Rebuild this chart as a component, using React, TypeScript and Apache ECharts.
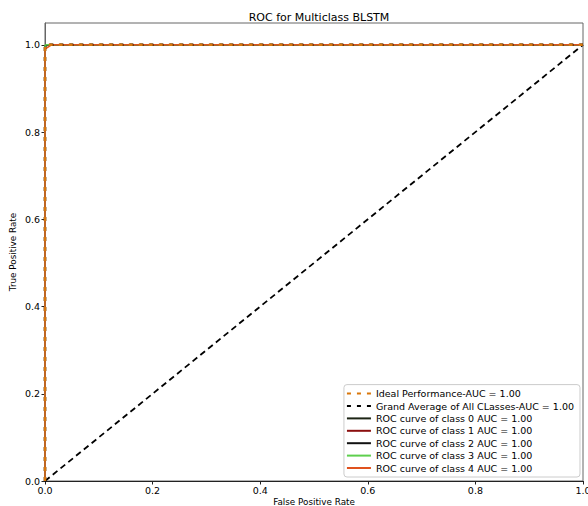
import React, { useEffect, useRef } from "react";
import * as echarts from "echarts";

const xTicks = [0, 0.2, 0.4, 0.6, 0.8, 1.0];
const diagonal: number[][] = [[0, 0], [1, 1]];
const idealCurve: number[][] = [[0, 0], [0, 1], [1, 1]];
const grandAverage: number[][] = [[0, 0], [0, 0.998], [0.002, 1], [1, 1]];
const class0: number[][] = [[0, 0], [0, 0.996], [0.006, 1], [1, 1]];
const class1: number[][] = [[0, 0], [0, 0.997], [0.005, 1], [1, 1]];
const class2: number[][] = [[0, 0], [0, 0.998], [0.004, 1], [1, 1]];
const class3: number[][] = [[0, 0], [0, 0.999], [0.003, 1], [1, 1]];
const class4: number[][] = [[0, 0], [0, 0.99], [0.012, 1], [1, 1]];

const seriesNames = [
  "Ideal Performance-AUC = 1.00",
  "Grand Average of All CLasses-AUC = 1.00",
  "ROC curve of class 0 AUC = 1.00",
  "ROC curve of class 1 AUC = 1.00",
  "ROC curve of class 2 AUC = 1.00",
  "ROC curve of class 3 AUC = 1.00",
  "ROC curve of class 4 AUC = 1.00",
];
const seriesData = [idealCurve, grandAverage, class0, class1, class2, class3, class4];
const seriesColors = ["#d9770a", "#000000", "#1c2414", "#8b0f0f", "#111111", "#5ecf4e", "#e0521e"];
const seriesDash: any[] = [[4, 6], [4, 6], "solid", "solid", "solid", "solid", "solid"];
const seriesWidth = [2.5, 2.5, 1.5, 1.5, 1.5, 1.5, 1.5];
const seriesZ = [9, 8, 3, 4, 5, 6, 7];

const FONT = "DejaVu Sans";

export default function App() {
  const ref = useRef<HTMLDivElement>(null);
  useEffect(() => {
    if (!ref.current) return;
    const chart = echarts.init(ref.current, undefined, { renderer: "svg" });
    const lineSeries: any[] = seriesNames.map((name, i) => ({
      name,
      type: "line",
      data: seriesData[i],
      showSymbol: false,
      symbol: "none",
      z: seriesZ[i],
      lineStyle: { color: seriesColors[i], width: seriesWidth[i], type: seriesDash[i] },
      itemStyle: { color: seriesColors[i] },
    }));
    lineSeries.unshift({
      name: "diagonal",
      type: "line",
      data: diagonal,
      showSymbol: false,
      symbol: "none",
      z: 2,
      lineStyle: { color: "#000", width: 1.8, type: [6, 4] },
    });
    chart.setOption({
      animation: false,
      backgroundColor: "#fff",
      textStyle: { fontFamily: FONT },
      title: {
        text: "ROC for Multiclass BLSTM",
        left: 314,
        textAlign: "center",
        top: 7,
        textStyle: { fontFamily: FONT, fontSize: 11, fontWeight: "normal", color: "#000" },
      },
      grid: {
        left: 45,
        right: 5,
        top: 23,
        bottom: 25,
        show: true,
        borderColor: "#666",
        borderWidth: 1,
        backgroundColor: "transparent",
        outerBoundsMode: "none",
        containLabel: false,
      },
      legend: {
        orient: "vertical",
        right: 8,
        bottom: 29,
        data: seriesNames,
        itemWidth: 24,
        itemHeight: 9,
        itemGap: 2.4,
        padding: [4, 6, 4, 2],
        backgroundColor: "#fff",
        borderColor: "#ccc",
        borderWidth: 1,
        borderRadius: 3,
        itemStyle: { opacity: 0 },
        textStyle: { fontFamily: FONT, fontSize: 9.5, color: "#000", lineHeight: 9 },
      },
      xAxis: {
        type: "value",
        min: 0,
        max: 1,
        interval: 0.2,
        name: "False Positive Rate",
        nameLocation: "middle",
        nameGap: 16,
        nameMoveOverlap: false,
        nameTextStyle: { fontFamily: FONT, fontSize: 8.8, color: "#000" },
        axisLine: { show: true, onZero: false, lineStyle: { color: "#222", width: 1 } },
        axisTick: { show: true, length: 3.5, lineStyle: { color: "#222" } },
        axisLabel: {
          fontFamily: FONT,
          fontSize: 9.5,
          color: "#000",
          margin: 4,
          formatter: (v: number) => (xTicks.some((t) => Math.abs(t - v) < 1e-6) ? v.toFixed(1) : ""),
        },
        splitLine: { show: false },
      },
      yAxis: {
        type: "value",
        min: 0,
        max: 1.05,
        interval: 0.2,
        name: "True Positive Rate",
        nameLocation: "middle",
        nameGap: 28,
        nameMoveOverlap: false,
        nameTextStyle: { fontFamily: FONT, fontSize: 8.8, color: "#000" },
        axisLine: { show: true, onZero: false, lineStyle: { color: "#666", width: 1 } },
        axisTick: { show: true, length: 3.5, lineStyle: { color: "#222" } },
        axisLabel: {
          fontFamily: FONT,
          fontSize: 9.5,
          color: "#000",
          margin: 5,
          showMaxLabel: false,
          formatter: (v: number) => (v > 1.001 ? "" : v.toFixed(1)),
        },
        splitLine: { show: false },
      },
      series: lineSeries,
    });
    return () => chart.dispose();
  }, []);
  return (
    <div
      ref={ref}
      style={{ position: "fixed", left: 0, top: 0, width: 588, height: 506 }}
    />
  );
}
